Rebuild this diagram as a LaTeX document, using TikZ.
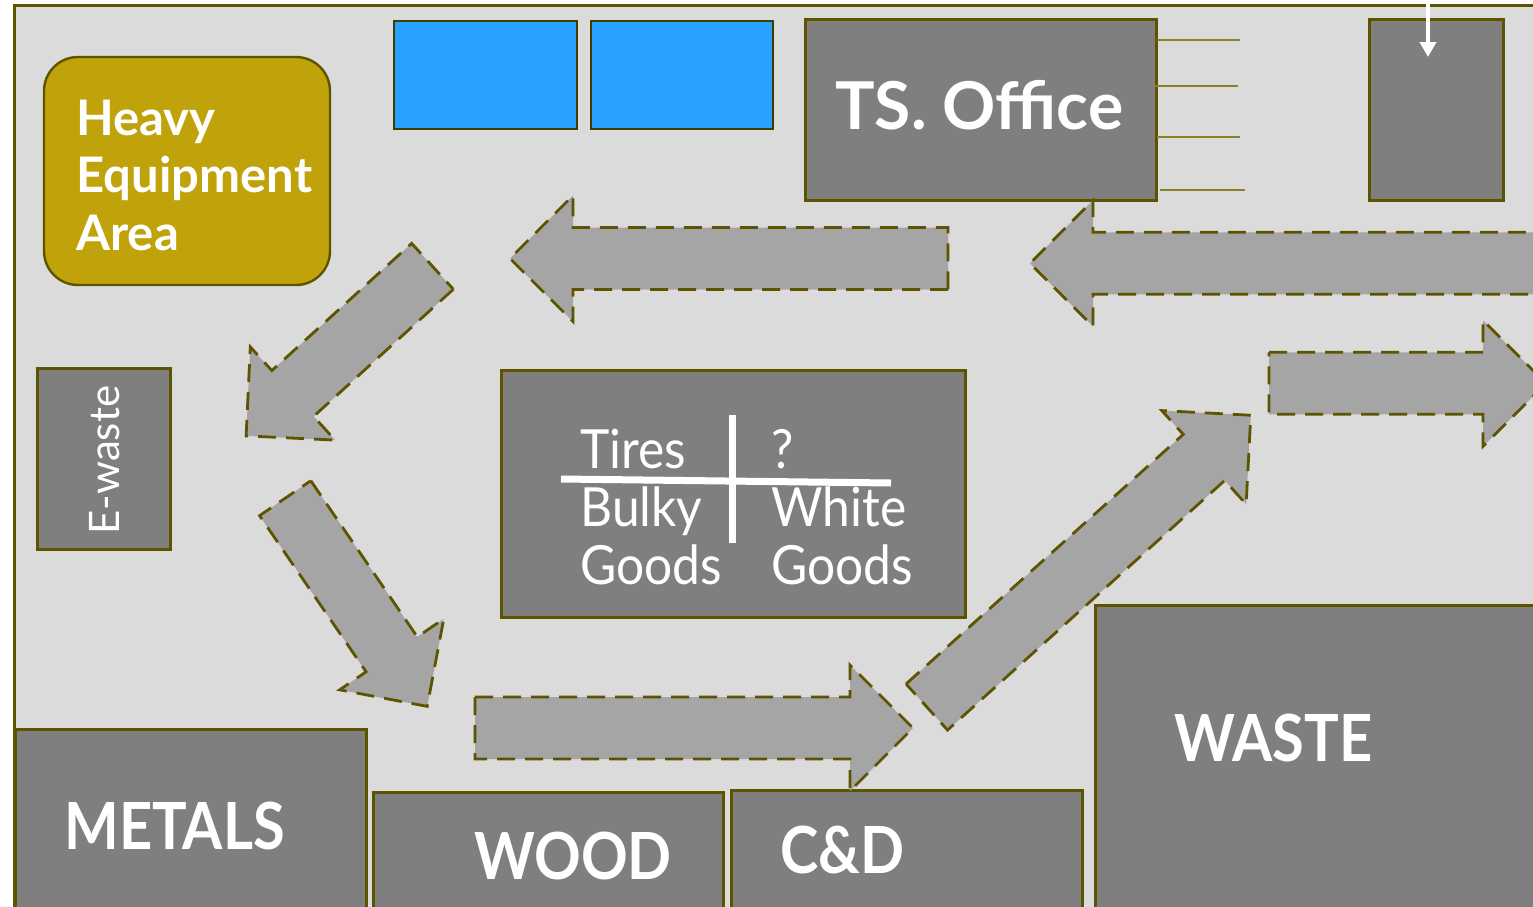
\documentclass[tikz,border=0pt]{standalone}
\usepackage{fontspec}
\setmainfont{Lato}
\newfontfamily\narrowfont[FakeStretch=0.89]{Lato}
\newfontfamily\midfont[FakeStretch=0.92]{Lato}
\usetikzlibrary{arrows.meta}
\definecolor{bgc}{RGB}{219,219,219}
\definecolor{olive}{RGB}{94,84,0}
\definecolor{boxg}{RGB}{127,127,127}
\definecolor{arrg}{RGB}{165,165,165}
\definecolor{gold}{RGB}{192,163,10}
\definecolor{skyb}{RGB}{41,161,255}
\definecolor{tickc}{RGB}{140,128,40}
\newcommand\blockarrow[4]{\draw[barrow, shift={(#1,#2)}, rotate=#4] (0,-31) -- ({#3-63},-31) -- ({#3-63},-63) -- (#3,0) -- ({#3-63},63) -- ({#3-63},31) -- (0,31) -- cycle;}
\begin{document}
\begin{tikzpicture}[x=0.5pt,y=-0.5pt,
  gbox/.style={fill=boxg, draw=olive, line width=1.5pt},
  bluebox/.style={fill=skyb, draw=olive!70!black, line width=1pt},
  barrow/.style={fill=arrg, draw=olive, line width=1.4pt, dash pattern=on 9pt off 5pt},
  tickline/.style={draw=tickc, line width=0.9pt},
  lbl/.style={text=white, inner sep=0pt, anchor=base west},
  big/.style={lbl, font=\narrowfont\bfseries\fontsize{32.5}{38}\selectfont},
  mid/.style={lbl, font=\midfont\fontsize{27}{29}\selectfont},
  bar/.style={white, line width=3.5pt}]
\useasboundingbox (0,0) rectangle (1533,906);
\clip (0,0) rectangle (1533,906);
\fill[white] (0,0) rectangle (1533,906);
\draw[olive, line width=1.5pt, fill=bgc] (14,5) rectangle (1600,1000);

% heavy equipment
\draw[fill=gold, draw=olive, line width=1.2pt, rounded corners=17pt] (44,57) rectangle (330,285);
\node[lbl, align=left, font=\bfseries\fontsize{24.5}{28.75}\selectfont] (heavy) at (76,250) {Heavy\\Equipment\\Area};

% blue boxes
\draw[bluebox] (394,21) rectangle (577,129);
\draw[bluebox] (591,21) rectangle (773,129);

% TS office
\draw[gbox] (805,19) rectangle (1156,200);
\node[lbl, font=\bfseries\fontsize{33}{38}\selectfont] (office) at (835,129) {TS. Office};
\draw[tickline] (1157,40) -- (1240,40);
\draw[tickline] (1155,86) -- (1238,86);
\draw[tickline] (1157,137) -- (1240,137);
\draw[tickline] (1160,190) -- (1245,190);

% small box with white arrow
\draw[gbox] (1369,19) rectangle (1503,200);
\coordinate (wa1) at (1428,0);
\coordinate (wa2) at (1428,57);
\draw[white, line width=2.2pt, -{Triangle[width=8pt,length=7.5pt]}] (wa1) -- (wa2);

% e-waste
\draw[gbox] (37,368) rectangle (170,549);
\node[lbl, rotate=90, font=\fontsize{21}{25}\selectfont] (ewaste) at (119.5,535) {E-waste};

% center box
\draw[gbox] (501,370) rectangle (965,617);
\node[mid] (tires) at (580,468) {Tires};
\node[mid] (q) at (771,468) {?};
\node[mid] (bulky) at (580,526) {Bulky};
\node[mid] (goods1) at (580,584) {Goods};
\node[mid] (white) at (771,526) {White};
\node[mid] (goods2) at (771,584) {Goods};
\coordinate (h1) at (561,479);
\coordinate (h2) at (891,483);
\coordinate (v1) at (732,415);
\coordinate (v2) at (732,543);
\draw[bar] (h1) -- (h2);
\draw[bar] (v1) -- (v2);

% bottom boxes
\draw[gbox] (15,729) rectangle (366,960);
\node[big] (metals) at (64,849) {METALS};
\draw[gbox] (373,792) rectangle (723,960);
\node[big] (wood) at (474,879) {WOOD};
\draw[gbox] (731,790) rectangle (1082,960);
\node[big] (cd) at (780,873) {C\&D};
\draw[gbox] (1095,605) rectangle (1600,960);
\node[big] (waste) at (1174,761) {WASTE};

% block arrows
\blockarrow{432.5}{266.3}{252}{-137.7}
\blockarrow{285.2}{498.2}{252}{-55.7}
\blockarrow{475}{728}{438}{0}
\blockarrow{926.8}{707}{436}{42}
\blockarrow{948}{258.5}{438}{180}
\blockarrow{1640}{263.3}{610}{180}
\blockarrow{1269}{383.3}{277}{0}
\end{tikzpicture}
\end{document}
